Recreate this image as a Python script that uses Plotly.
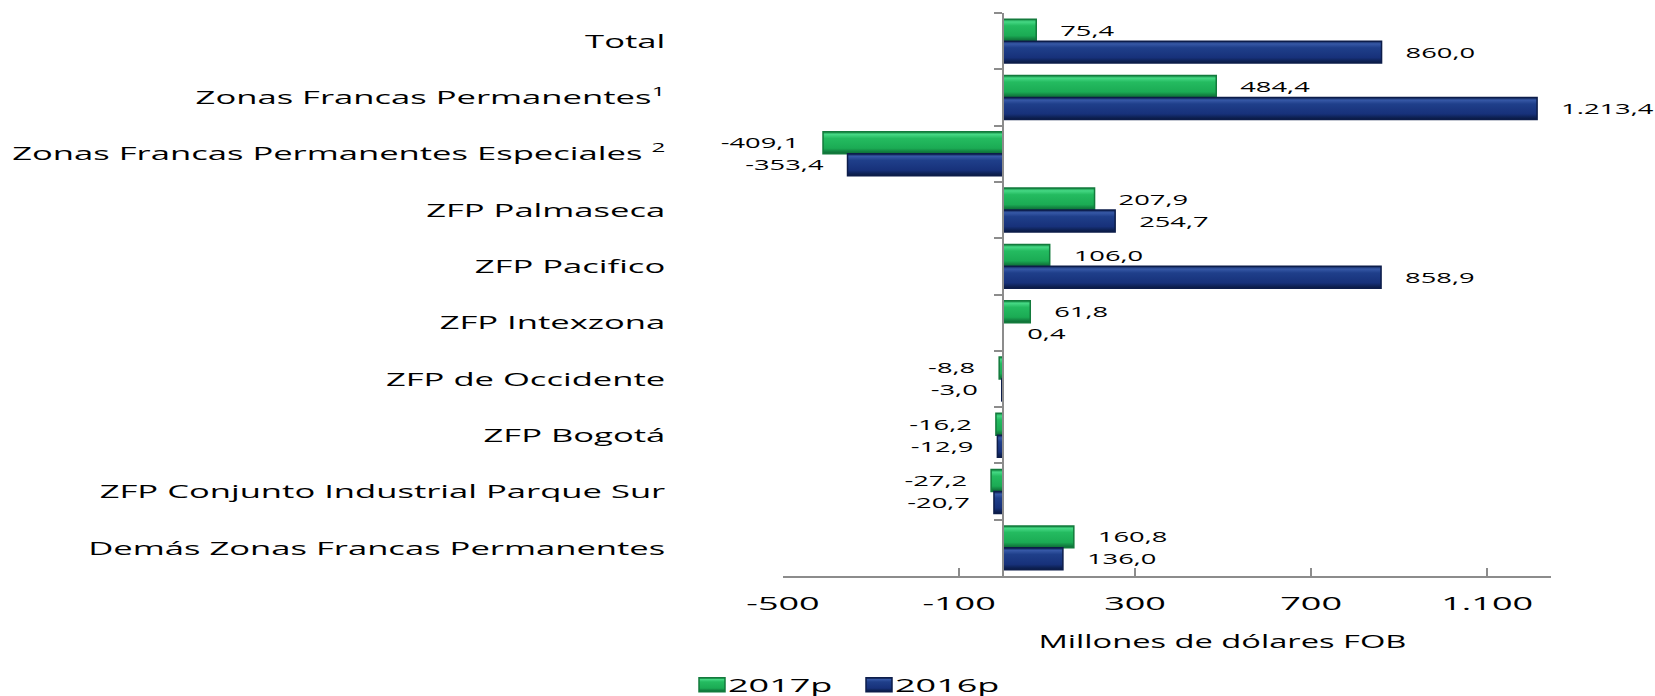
import plotly.graph_objects as go

categories = [
    "Total",
    "Zonas Francas Permanentes<sup>1</sup>",
    "Zonas Francas Permanentes Especiales <sup>2</sup>",
    "ZFP Palmaseca",
    "ZFP Pacifico",
    "ZFP Intexzona",
    "ZFP de Occidente",
    "ZFP Bogotá",
    "ZFP Conjunto Industrial Parque Sur",
    "Demás Zonas Francas Permanentes",
]
values_2017 = [75.4, 484.4, -409.1, 207.9, 106.0, 61.8, -8.8, -16.2, -27.2, 160.8]
values_2016 = [860.0, 1213.4, -353.4, 254.7, 858.9, 0.4, -3.0, -12.9, -20.7, 136.0]
tick_values = [-500, -100, 300, 700, 1100]
tick_labels = ["-500", "-100", "300", "700", "1.100"]


def es_fmt(v):
    s = "{:,.1f}".format(v)
    return s.replace(",", "X").replace(".", ",").replace("X", ".")


FONT = "Open Sans"
xmin, xmax = -500, 1245
W, H = 1655, 696
ML, MR, MT, MB = 783, 104, 13, 120
PW, PH = W - ML - MR, H - MT - MB

fig = go.Figure()
fig.add_trace(go.Bar(
    name="2017p", y=categories, x=values_2017, orientation="h",
    text=[es_fmt(v) for v in values_2017],
    marker=dict(color="#1fb158", line=dict(color="#137a3c", width=1.5)),
    textposition="outside", cliponaxis=False, constraintext="none",
    textfont=dict(family=FONT, size=14, color="black"),
))
fig.add_trace(go.Bar(
    name="2016p", y=categories, x=values_2016, orientation="h",
    text=[es_fmt(v) for v in values_2016],
    marker=dict(color="#173476", line=dict(color="#0d1d4a", width=1.5)),
    textposition="outside", cliponaxis=False, constraintext="none",
    textfont=dict(family=FONT, size=14, color="black"),
))

fig.update_layout(
    width=W, height=H,
    margin=dict(l=ML, r=MR, t=MT, b=MB, autoexpand=False),
    paper_bgcolor="white", plot_bgcolor="white",
    barmode="group", bargap=0.22, bargroupgap=0,
    font=dict(family=FONT, size=19, color="black"),
    showlegend=True,
    legend=dict(orientation="h", xref="container", yref="container",
                x=692 / W, xanchor="left", y=1 - 685 / H, yanchor="middle",
                font=dict(family=FONT, size=18), entrywidth=122, traceorder="normal"),
    xaxis=dict(range=[xmin, xmax], tickvals=tick_values, ticktext=tick_labels,
               automargin=False,
               showgrid=False, zeroline=False, showline=True, linecolor="#8c8c8c",
               linewidth=2, ticks="inside", ticklen=8, tickcolor="#8c8c8c", tickwidth=2,
               tickfont=dict(family=FONT, size=18), ticklabelstandoff=10),
    yaxis=dict(type="category", range=[9.5, -0.5], anchor="free",
               position=(0 - xmin) / (xmax - xmin), automargin=False,
               showgrid=False, showline=True, linecolor="#8c8c8c", linewidth=2,
               ticks="outside", tickson="boundaries", ticklen=8, tickcolor="#8c8c8c",
               tickwidth=2, ticklabelstandoff=333,
               tickfont=dict(family=FONT, size=19)),
)
fig.add_annotation(text="Millones de dólares FOB", xref="paper", yref="paper",
                   x=(1222 - ML) / PW, y=-(641 - (H - MB)) / PH, xanchor="center",
                   yanchor="middle", showarrow=False, font=dict(family=FONT, size=18))

post = """
document.body.style.margin = '0';
var gd = document.getElementById('{plot_id}');
var NS = 'http://www.w3.org/2000/svg';
function stretch(el, f){
  var w = el.getComputedTextLength();
  el.setAttribute('lengthAdjust', 'spacingAndGlyphs');
  el.setAttribute('textLength', w * f);
}
gd.querySelectorAll('.yaxislayer-above text').forEach(function(el){ stretch(el, 1.82); });
gd.querySelectorAll('.xaxislayer-above text').forEach(function(el){ stretch(el, 2.0); });
gd.querySelectorAll('text.legendtext').forEach(function(el){
  el.setAttribute('x', parseFloat(el.getAttribute('x') || 0) - 4);
  stretch(el, 2.0);
});
gd.querySelectorAll('text.annotation-text').forEach(function(el){
  el.setAttribute('lengthAdjust', 'spacingAndGlyphs');
  el.setAttribute('textLength', 368);
});
gd.querySelectorAll('text.bartext').forEach(function(el){
  var bb = el.getBBox();
  var neg = el.textContent.trim().charAt(0) === '-';
  var GAP = 21;
  if (neg) { el.setAttribute('text-anchor', 'end'); el.setAttribute('x', bb.x + bb.width - GAP); }
  else { el.setAttribute('text-anchor', 'start'); el.setAttribute('x', bb.x + GAP); }
  stretch(el, 1.95);
});
// bevel-like gradients
var svg = gd.querySelector('svg.main-svg');
var defs = svg.querySelector('defs');
if (!defs) { defs = document.createElementNS(NS, 'defs'); svg.insertBefore(defs, svg.firstChild); }
function grad(id, stops){
  var g = document.createElementNS(NS, 'linearGradient');
  g.setAttribute('id', id); g.setAttribute('x1', '0'); g.setAttribute('y1', '0');
  g.setAttribute('x2', '0'); g.setAttribute('y2', '1');
  stops.forEach(function(s){
    var st = document.createElementNS(NS, 'stop');
    st.setAttribute('offset', s[0]); st.setAttribute('stop-color', s[1]);
    g.appendChild(st);
  });
  defs.appendChild(g);
}
grad('gradG', [[0, '#138a42'], [0.12, '#45d884'], [0.3, '#24bb60'], [0.75, '#1bab54'], [0.9, '#128040'], [1, '#0d6b34']]);
grad('gradB', [[0, '#0f2456'], [0.12, '#3658a6'], [0.3, '#1f3f8a'], [0.75, '#17317a'], [0.9, '#0e2256'], [1, '#0a1a44']]);
var ids = ['gradG', 'gradB'];
gd.querySelectorAll('.barlayer g.trace').forEach(function(t, i){
  t.querySelectorAll('path').forEach(function(p){ p.style.fill = 'url(#' + ids[i] + ')'; });
});
gd.querySelectorAll('.legend g.traces').forEach(function(t, i){
  t.querySelectorAll('.legendpoints path').forEach(function(p){
    p.setAttribute('d', 'M13,7H-13V-7H13Z');
    p.style.fill = 'url(#' + ids[i] + ')';
  });
});
"""

fig.write_html("out.html", post_script=post, config={"displayModeBar": False})
